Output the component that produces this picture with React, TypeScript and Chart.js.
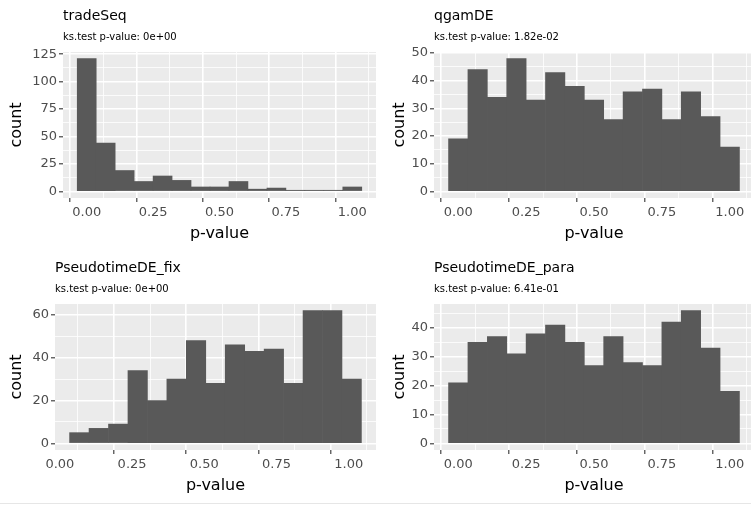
import React, { useEffect, useRef } from 'react';
import { Chart, registerables } from 'chart.js';

Chart.register(...registerables);

// ---------------- data ----------------
const binCentersUnit = [0, 0.0714, 0.1429, 0.2143, 0.2857, 0.3571, 0.4286, 0.5, 0.5714, 0.6429, 0.7143, 0.7857, 0.8571, 0.9286, 1.0];
const binCentersFix = [0.0673, 0.1346, 0.202, 0.2694, 0.3367, 0.4041, 0.4714, 0.5388, 0.6062, 0.6735, 0.7409, 0.8082, 0.8756, 0.943, 1.0103];

const tradeSeqCounts = [121, 44, 19, 9, 14, 10, 4, 4, 9, 2, 3, 1, 1, 1, 4];
const qgamDECounts = [19, 44, 34, 48, 33, 43, 38, 33, 26, 36, 37, 26, 36, 27, 16];
const fixCounts = [5, 7, 9, 34, 20, 30, 48, 28, 46, 43, 44, 28, 62, 62, 30];
const paraCounts = [21, 35, 37, 31, 38, 41, 35, 27, 37, 28, 27, 42, 46, 33, 18];

const panelTitles = ['tradeSeq', 'qgamDE', 'PseudotimeDE_fix', 'PseudotimeDE_para'];
const panelSubtitles = [
  'ks.test p-value: 0e+00',
  'ks.test p-value: 1.82e-02',
  'ks.test p-value: 0e+00',
  'ks.test p-value: 6.41e-01',
];

const xMajorTicks = [0, 0.25, 0.5, 0.75, 1];
const xMinorTicks = [0.125, 0.375, 0.625, 0.875];
const xLimitsUnit = [-0.0893, 1.0893];
const xLimitsFix = [-0.0169, 1.0945];

const yMajorTradeSeq = [0, 25, 50, 75, 100, 125];
const yMinorTradeSeq = [12.5, 37.5, 62.5, 87.5, 112.5];
const yLimitsTradeSeq = [-6.05, 127.05];

const yMajorQgam = [0, 10, 20, 30, 40, 50];
const yMinorQgam = [5, 15, 25, 35, 45];
const yLimitsQgam = [-2.4, 50.4];

const yMajorFix = [0, 20, 40, 60];
const yMinorFix = [10, 30, 50];
const yLimitsFix = [-3.1, 65.1];

const yMajorPara = [0, 10, 20, 30, 40];
const yMinorPara = [5, 15, 25, 35, 45];
const yLimitsPara = [-2.3, 48.3];

// ---------------- styling ----------------
const FONT = "'DejaVu Sans', 'Liberation Sans', sans-serif";
Chart.defaults.font.family = FONT;

const isIn = (v: number, arr: number[]) => arr.some((m) => Math.abs(m - v) < 1e-9);

const panelBgPlugin = {
  id: 'panelBg',
  beforeDraw(chart: any) {
    const { ctx, chartArea } = chart;
    ctx.save();
    ctx.fillStyle = '#EBEBEB';
    ctx.fillRect(chartArea.left, chartArea.top, chartArea.right - chartArea.left, chartArea.bottom - chartArea.top);
    ctx.restore();
  },
};

const panelTitlePlugin = {
  id: 'panelTitle',
  afterDraw(chart: any, _args: any, opts: any) {
    const { ctx, chartArea } = chart;
    ctx.save();
    ctx.fillStyle = '#000000';
    ctx.textAlign = 'left';
    ctx.textBaseline = 'alphabetic';
    ctx.font = `14px ${FONT}`;
    ctx.fillText(opts.title, chartArea.left, chartArea.top - 32);
    ctx.font = `10px ${FONT}`;
    ctx.fillText(opts.subtitle, chartArea.left, chartArea.top - 12.5);
    ctx.restore();
  },
};

type PanelSpec = {
  left: number;
  top: number;
  w: number;
  h: number;
  yAxisWidth: number;
  xAxisHeight: number;
  yTitlePad: number;
  xTitlePad: number;
  title: string;
  subtitle: string;
  centers: number[];
  counts: number[];
  xLimits: number[];
  yLimits: number[];
  yMajor: number[];
  yMinor: number[];
};

const panels: PanelSpec[] = [
  {
    left: 0, top: 0, w: 376, h: 252, yAxisWidth: 63, xAxisHeight: 54, yTitlePad: 7, xTitlePad: 9,
    title: panelTitles[0], subtitle: panelSubtitles[0], centers: binCentersUnit, counts: tradeSeqCounts,
    xLimits: xLimitsUnit, yLimits: yLimitsTradeSeq, yMajor: yMajorTradeSeq, yMinor: yMinorTradeSeq,
  },
  {
    left: 376, top: 0, w: 378, h: 252, yAxisWidth: 58, xAxisHeight: 54, yTitlePad: 14, xTitlePad: 9,
    title: panelTitles[1], subtitle: panelSubtitles[1], centers: binCentersUnit, counts: qgamDECounts,
    xLimits: xLimitsUnit, yLimits: yLimitsQgam, yMajor: yMajorQgam, yMinor: yMinorQgam,
  },
  {
    left: 0, top: 252, w: 376, h: 251, yAxisWidth: 55, xAxisHeight: 53, yTitlePad: 7, xTitlePad: 8,
    title: panelTitles[2], subtitle: panelSubtitles[2], centers: binCentersFix, counts: fixCounts,
    xLimits: xLimitsFix, yLimits: yLimitsFix, yMajor: yMajorFix, yMinor: yMinorFix,
  },
  {
    left: 376, top: 252, w: 378, h: 251, yAxisWidth: 58, xAxisHeight: 53, yTitlePad: 14, xTitlePad: 8,
    title: panelTitles[3], subtitle: panelSubtitles[3], centers: binCentersUnit, counts: paraCounts,
    xLimits: xLimitsUnit, yLimits: yLimitsPara, yMajor: yMajorPara, yMinor: yMinorPara,
  },
];

function gridOpts(majors: number[]) {
  return {
    color: '#FFFFFF',
    lineWidth: (ctx: any) => (ctx.tick && isIn(ctx.tick.value, majors) ? 1.6 : 0.8),
    drawTicks: true,
    tickLength: 4,
    tickWidth: 1.1,
    tickColor: (ctx: any) => (ctx.tick && isIn(ctx.tick.value, majors) ? '#333333' : 'rgba(0,0,0,0)'),
  };
}

function HistPanel({ spec }: { spec: PanelSpec }) {
  const ref = useRef<HTMLCanvasElement>(null);

  useEffect(() => {
    if (!ref.current) return;
    const data = spec.centers.map((x, i) => ({ x, y: spec.counts[i] }));
    const chart = new Chart(ref.current, {
      type: 'bar',
      data: {
        datasets: [
          {
            data,
            backgroundColor: '#595959',
            borderWidth: 0,
            barPercentage: 1,
            categoryPercentage: 1,
          } as any,
        ],
      },
      options: {
        animation: false,
        responsive: false,
        devicePixelRatio: 1,
        events: [],
        layout: { padding: { top: 52, left: 0, right: 0, bottom: 0 } },
        plugins: {
          legend: { display: false },
          tooltip: { enabled: false },
          title: { display: false },
          panelTitle: { title: spec.title, subtitle: spec.subtitle },
        } as any,
        scales: {
          x: {
            type: 'linear',
            min: spec.xLimits[0],
            max: spec.xLimits[1],
            offset: false,
            border: { display: false },
            grid: gridOpts(xMajorTicks) as any,
            afterBuildTicks: (scale: any) => {
              scale.ticks = [...xMajorTicks, ...xMinorTicks].sort((a, b) => a - b).map((v) => ({ value: v }));
            },
            afterFit: (scale: any) => {
              scale.height = spec.xAxisHeight;
            },
            ticks: {
              autoSkip: false,
              maxRotation: 0,
              minRotation: 0,
              padding: 3,
              color: '#4D4D4D',
              font: { size: 13, family: FONT },
              callback: (v: any) => (isIn(Number(v), xMajorTicks) ? Number(v).toFixed(2) : ''),
            },
            title: {
              display: true,
              text: 'p-value',
              color: '#000000',
              font: { size: 16, family: FONT },
              padding: { top: 0, bottom: spec.xTitlePad },
            },
          },
          y: {
            type: 'linear',
            min: spec.yLimits[0],
            max: spec.yLimits[1],
            border: { display: false },
            grid: gridOpts(spec.yMajor) as any,
            afterBuildTicks: (scale: any) => {
              scale.ticks = [...spec.yMajor, ...spec.yMinor].sort((a, b) => a - b).map((v) => ({ value: v }));
            },
            afterFit: (scale: any) => {
              scale.width = spec.yAxisWidth;
            },
            ticks: {
              autoSkip: false,
              padding: 2,
              color: '#4D4D4D',
              font: { size: 13, family: FONT },
              callback: (v: any) => (isIn(Number(v), spec.yMajor) ? String(v) : ''),
            },
            title: {
              display: true,
              text: 'count',
              color: '#000000',
              font: { size: 16, family: FONT },
              padding: { top: spec.yTitlePad, bottom: 0 },
            },
          },
        },
      } as any,
      plugins: [panelBgPlugin, panelTitlePlugin],
    });
    return () => chart.destroy();
  }, [spec]);

  return (
    <canvas
      ref={ref}
      width={spec.w}
      height={spec.h}
      style={{ position: 'absolute', left: spec.left, top: spec.top, width: spec.w, height: spec.h, display: 'block' }}
    />
  );
}

export default function App() {
  return (
    <div
      style={{
        position: 'fixed',
        left: 0,
        top: 0,
        width: 751,
        height: 508,
        overflow: 'hidden',
        background: '#FFFFFF',
      }}
    >
      {panels.map((p, i) => (
        <HistPanel key={i} spec={p} />
      ))}
      <div style={{ position: 'absolute', left: 0, top: 503, width: 751, height: 1, background: '#E6E6E6' }} />
    </div>
  );
}
